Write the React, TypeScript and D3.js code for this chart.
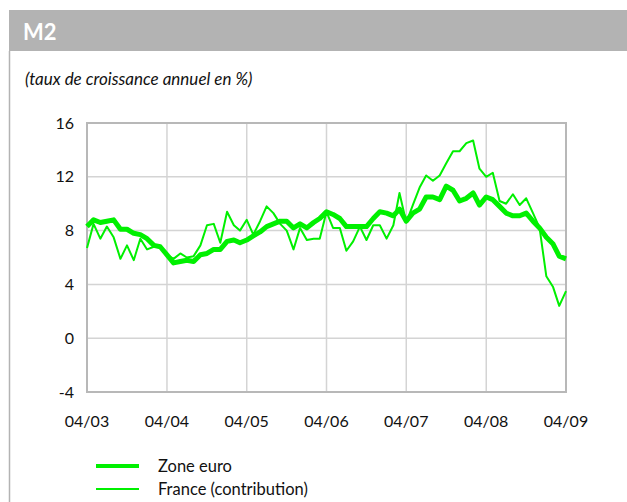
import * as d3 from "d3";
import { useEffect, useRef } from "react";

// monthly, april 2003 -> april 2009
const startMonth = new Date(2003, 3, 1);
const zoneEuro = [
    8.3, 8.8, 8.6, 8.7, 8.8, 8.1, 8.1, 7.8, 7.7, 7.4, 6.9, 6.8,
    6.2, 5.6, 5.7, 5.8, 5.7, 6.2, 6.3, 6.6, 6.6, 7.2, 7.3, 7.1,
    7.3, 7.6, 7.9, 8.3, 8.5, 8.7, 8.7, 8.2, 8.5, 8.2, 8.6, 8.9,
    9.4, 9.2, 8.9, 8.3, 8.3, 8.3, 8.3, 8.9, 9.4, 9.3, 9.1, 9.6,
    8.7, 9.3, 9.6, 10.5, 10.5, 10.3, 11.3, 11.0, 10.2, 10.4, 10.8, 9.9,
    10.5, 10.3, 9.8, 9.3, 9.1, 9.1, 9.3, 8.7, 8.2, 7.5, 7.0, 6.1,
    5.9,
];
const france = [
    6.7, 8.5, 7.4, 8.3, 7.5, 5.9, 6.9, 5.8, 7.4, 6.6, 6.8, 6.8,
    6.2, 5.9, 6.3, 6.0, 6.1, 6.9, 8.4, 8.5, 7.1, 9.4, 8.4, 8.0,
    8.8, 7.7, 8.7, 9.8, 9.3, 8.5, 8.0, 6.6, 8.2, 7.3, 7.4, 7.4,
    9.4, 8.2, 8.2, 6.5, 7.2, 8.3, 7.3, 8.4, 8.4, 7.4, 8.4, 10.8,
    8.6, 9.9, 11.2, 12.1, 11.7, 12.1, 13.0, 13.9, 13.9, 14.5, 14.7, 12.6,
    12.0, 12.3, 10.2, 10.0, 10.7, 9.9, 10.4, 9.3, 8.2, 4.6, 3.8, 2.4,
    3.5,
];
const yTicks = [-4, 0, 4, 8, 12, 16];
const xTickYears = [2003, 2004, 2005, 2006, 2007, 2008, 2009];
const seriesNames = ["Zone euro", "France (contribution)"];

const green = "#00f000";
const font = "Lato, 'Open Sans', sans-serif";

function drawChart(el: SVGSVGElement) {
    const svg = d3.select(el);
    svg.selectAll("*").remove();

    const width = 627;
    const height = 502;
    const left = 87, right = 566, top = 123, bottom = 392;

    // header bar + left rule
    svg.append("rect").attr("x", 9).attr("y", 10).attr("width", width - 9).attr("height", 41).attr("fill", "#b3b3b3");
    svg.append("line").attr("x1", 9.5).attr("x2", 9.5).attr("y1", 51).attr("y2", height).attr("stroke", "#b3b3b3").attr("stroke-width", 1.5);
    svg.append("text").attr("x", 23).attr("y", 40).text("M2")
        .attr("fill", "#fff").attr("font-weight", "bold").attr("font-size", 22).attr("font-family", font);
    svg.append("text").attr("x", 25).attr("y", 85).text("(taux de croissance annuel en %)")
        .attr("font-style", "italic").attr("font-size", 17).attr("font-family", font).attr("fill", "#111");

    const x = d3.scaleTime()
        .domain([startMonth, new Date(2009, 3, 1)])
        .range([left, right]);
    const y = d3.scaleLinear().domain([-4, 16]).range([bottom, top]);

    const g = svg.append("g");

    // grid
    g.selectAll("line.hgrid").data(yTicks).enter().append("line")
        .attr("x1", left).attr("x2", right)
        .attr("y1", d => y(d)).attr("y2", d => y(d))
        .attr("stroke", "#d4d4d4").attr("stroke-width", 1.5);
    g.selectAll("line.vgrid").data(xTickYears).enter().append("line")
        .attr("x1", d => x(new Date(d, 3, 1))).attr("x2", d => x(new Date(d, 3, 1)))
        .attr("y1", top).attr("y2", bottom)
        .attr("stroke", "#d4d4d4").attr("stroke-width", 1.5);
    g.append("rect").attr("x", left).attr("y", top).attr("width", right - left).attr("height", bottom - top)
        .attr("fill", "none").attr("stroke", "#b8b8b8").attr("stroke-width", 2);

    // tick labels
    g.selectAll("text.ytick").data(yTicks).enter().append("text")
        .attr("x", 74).attr("y", d => y(d)).attr("dy", "0.35em")
        .attr("text-anchor", "end").attr("font-size", 16).attr("font-family", font).attr("fill", "#111")
        .text(d => String(d));
    g.selectAll("text.xtick").data(xTickYears).enter().append("text")
        .attr("x", d => x(new Date(d, 3, 1))).attr("y", 421).attr("dy", "0.35em")
        .attr("text-anchor", "middle").attr("font-size", 16).attr("font-family", font).attr("fill", "#111")
        .text(d => d3.timeFormat("%m/%y")(new Date(d, 3, 1)));

    const line = d3.line<number>()
        .x((_, i) => x(d3.timeMonth.offset(startMonth, i)))
        .y(d => y(d));

    g.append("path").datum(france).attr("d", line)
        .attr("fill", "none").attr("stroke", green).attr("stroke-width", 2).attr("stroke-linejoin", "round");
    g.append("path").datum(zoneEuro).attr("d", line)
        .attr("fill", "none").attr("stroke", green).attr("stroke-width", 5).attr("stroke-linejoin", "round");

    // legend
    const legend = svg.append("g");
    seriesNames.forEach((name, i) => {
        const ly = 466 + i * 23;
        legend.append("line").attr("x1", 96).attr("x2", 139).attr("y1", ly).attr("y2", ly)
            .attr("stroke", green).attr("stroke-width", i === 0 ? 4 : 2);
        legend.append("text").attr("x", 158).attr("y", ly).attr("dy", "0.35em")
            .attr("font-size", 16.5).attr("font-family", font).attr("fill", "#111").text(name);
    });
}

export default function App() {
    const svgRef = useRef<SVGSVGElement>(null);
    useEffect(() => {
        if (svgRef.current) drawChart(svgRef.current);
    }, []);

    return (
        <svg ref={svgRef} width={627} height={502}
            style={{ position: "absolute", left: 0, top: 0, background: "#fff" }} />
    );
}
